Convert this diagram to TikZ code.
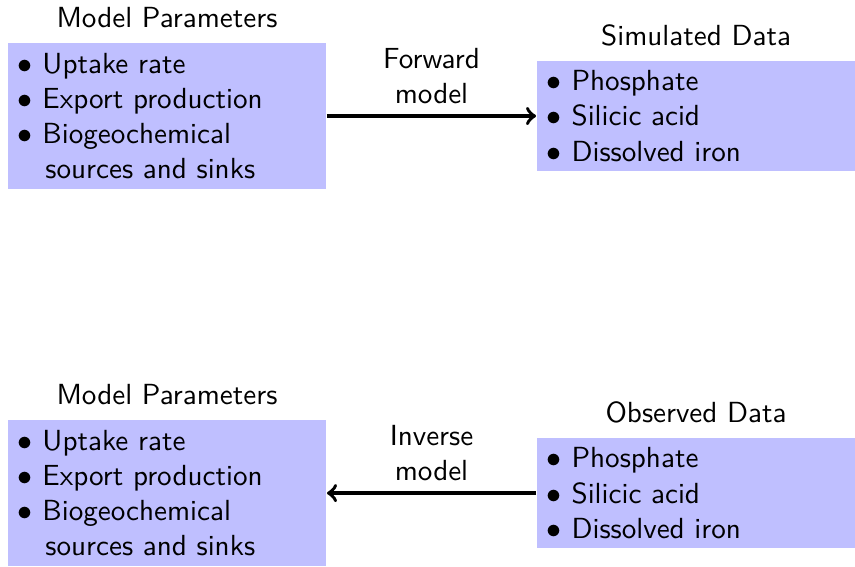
\documentclass[tikz,border=0pt]{standalone}
\usepackage{xcolor}
\usepackage{amsmath}
\usepackage{tikz}

\newcommand{\bul}{\makebox[8.3pt][l]{$\bullet$}}
\newcommand{\nobul}{\hspace*{9.3pt}}

\begin{document}
\begin{tikzpicture}[x=1pt, y=1pt, every node/.style={font=\sffamily\fontsize{9.7}{11.7}\selectfont},
		databox/.style={fill=blue!25, text width=3.5cm, align=left, anchor=west},
		boxtitle/.style={anchor=base, yshift=5pt}]
		\pgfmathsetmacro\w{285}
		\pgfmathsetmacro\h{188.67}
		\useasboundingbox (0, 0) rectangle (\w, \h);
		\coordinate (a) at (2.33, 150);
		\coordinate (b) at (178.7, 150);
		\coordinate (c) at (2.33, 24.3);
		\coordinate (d) at (178.7, 24.3);
		\node[databox] (params1) at (a) {\bul Uptake rate\\\bul Export production\\\bul Biogeochemical\\\nobul sources and sinks};
		\node[databox] (simdata) at (b) {\bul Phosphate\\\bul Silicic acid\\\bul Dissolved iron};
		\node[databox] (params2) at (c) {\bul Uptake rate\\\bul Export production\\\bul Biogeochemical\\\nobul sources and sinks};
		\node[databox] (obsdata) at (d) {\bul Phosphate\\\bul Silicic acid\\\bul Dissolved iron};
		\node[boxtitle] (t1) at (params1.north) {Model Parameters};
		\node[boxtitle] (t2) at (simdata.north) {Simulated Data};
		\node[boxtitle] (t3) at (params2.north) {Model Parameters};
		\node[boxtitle] (t4) at (obsdata.north) {Observed Data};
		\draw[very thick, ->] (params1.east) -- node[above, align=center] (fwd) {Forward\\model} (simdata.west);
		\draw[very thick, ->] (obsdata.west) -- node[above, align=center] (inv) {Inverse\\model} (params2.east);
	\end{tikzpicture}
\end{document}
